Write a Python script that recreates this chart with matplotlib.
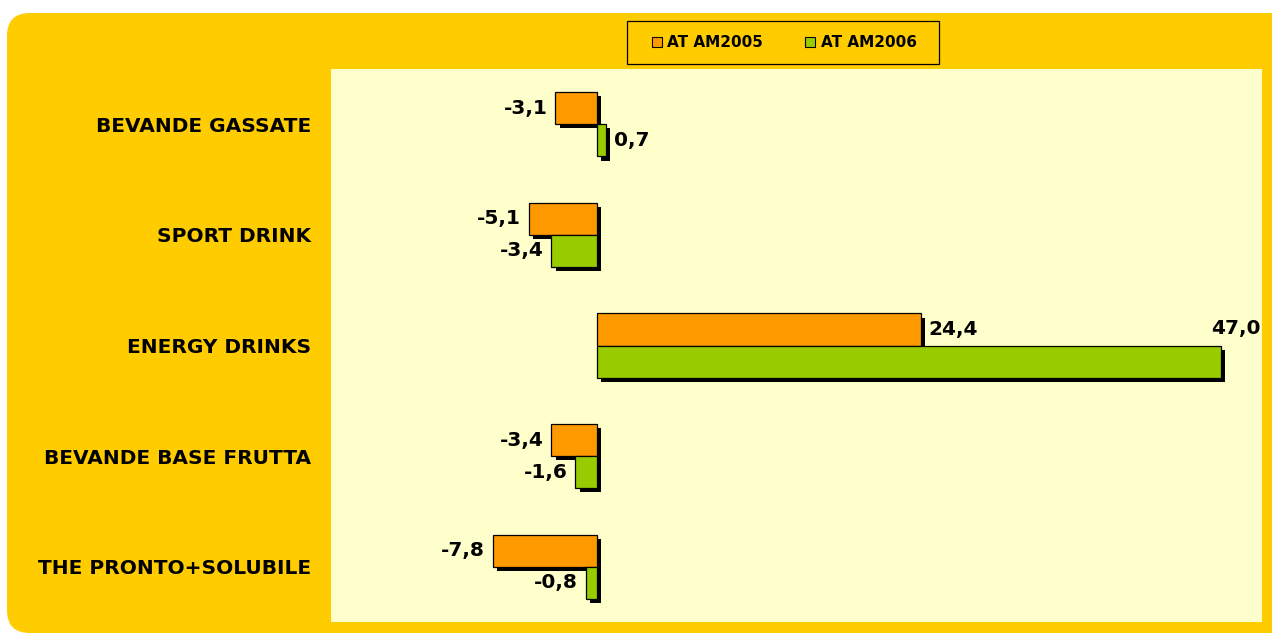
import matplotlib
matplotlib.use("Agg")
import matplotlib.pyplot as plt
import matplotlib.patheffects as pe
from matplotlib.patches import FancyBboxPatch, Rectangle
from matplotlib.lines import Line2D
import numpy as np

categories = ["BEVANDE GASSATE", "SPORT DRINK", "ENERGY DRINKS",
              "BEVANDE BASE FRUTTA", "THE PRONTO+SOLUBILE"]
at_am2005 = [-3.1, -5.1, 24.4, -3.4, -7.8]
at_am2006 = [0.7, -3.4, 47.0, -1.6, -0.8]
series_names = ["AT AM2005", "AT AM2006"]

C_ORANGE = "#FF9900"
C_GREEN = "#99CC00"
C_BG = "#FFCC00"
C_PLOT = "#FFFFCC"

W, H = 1272, 635
fig = plt.figure(figsize=(W / 100, H / 100), dpi=100)
fig.patch.set_facecolor("white")

bg = FancyBboxPatch((7 / W, 1 - 633 / H), (1300 - 7) / W, (633 - 13) / H,
                    boxstyle="round,pad=0,rounding_size=0.018",
                    transform=fig.transFigure, facecolor=C_BG, edgecolor="none",
                    mutation_aspect=W / H, zorder=-10)
fig.add_artist(bg)

# legend frame
fig.add_artist(Rectangle((627 / W, 1 - 64 / H), (939 - 627) / W, (64 - 21) / H,
                         transform=fig.transFigure, facecolor="none",
                         edgecolor="black", linewidth=0.9, zorder=-5))

ax = fig.add_axes([331 / W, 1 - 622 / H, (1262 - 331) / W, (622 - 69) / H])
ax.set_zorder(1)
ax.set_facecolor(C_PLOT)
for s in ax.spines.values():
    s.set_visible(False)

n = len(categories)
y = np.arange(n)
h = 0.29
shadow = [pe.SimplePatchShadow(offset=(3, -3), shadow_rgbFace="black", alpha=1.0),
          pe.Normal()]
b1 = ax.barh(y - h / 2, at_am2005, height=h, color=C_ORANGE, edgecolor="black",
             linewidth=0.9, zorder=3)
b2 = ax.barh(y + h / 2, at_am2006, height=h, color=C_GREEN, edgecolor="black",
             linewidth=0.9, zorder=3)
for b in list(b1) + list(b2):
    b.set_path_effects(shadow)

ax.set_xlim(-20, 50.1)
ax.set_ylim(n - 0.5, -0.5)
ax.set_xticks([])
ax.set_yticks(y)
ax.set_yticklabels(categories, fontsize=14.5, fontweight="bold")
ax.tick_params(axis="y", length=0, pad=14)

def fmt(v):
    return f"{v:.1f}".replace(".", ",")

lab_kw = dict(fontsize=14.5, fontweight="bold", va="center", zorder=5)
for vals, off in ((at_am2005, -h / 2), (at_am2006, h / 2)):
    for i, v in enumerate(vals):
        yy = i + off
        if v >= 45:
            ax.text(v + 3.0, yy - 0.3, fmt(v), ha="right", **lab_kw)
        elif v >= 0:
            ax.text(v + 0.6, yy, fmt(v), ha="left", **lab_kw)
        else:
            ax.text(v - 0.6, yy, fmt(v), ha="right", **lab_kw)

handles = [Line2D([], [], marker="s", linestyle="none", markersize=7.5,
                  markerfacecolor=c, markeredgecolor="black", markeredgewidth=0.8)
           for c in (C_ORANGE, C_GREEN)]
leg = fig.legend(handles, series_names, loc="center", ncol=2,
                 bbox_to_anchor=(783 / W, 1 - 42.5 / H),
                 prop=dict(size=11, weight="bold"), frameon=False,
                 handletextpad=0.2, columnspacing=2.6, borderpad=0.9,
                 handlelength=1.0, borderaxespad=0)

fig.savefig("out.png", dpi=100)
